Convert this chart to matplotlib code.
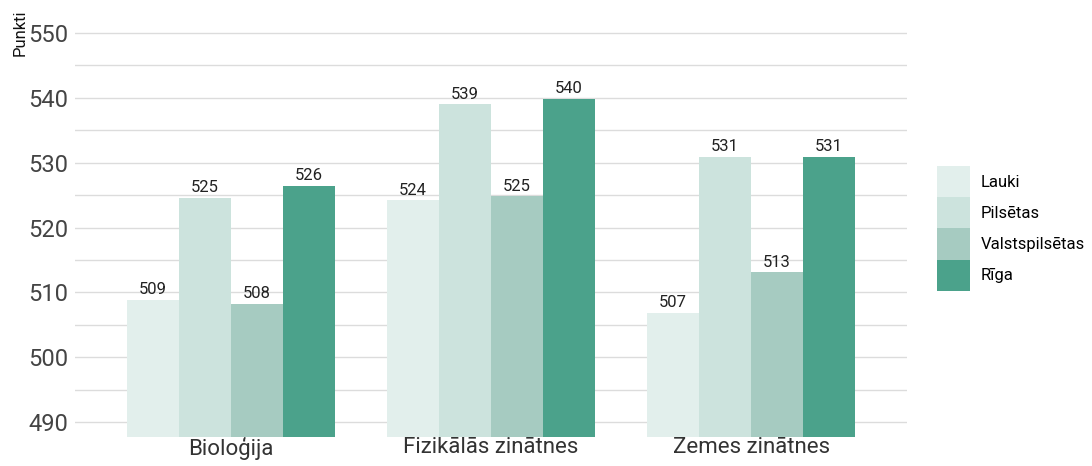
import numpy as np
import matplotlib.pyplot as plt
from matplotlib.ticker import MultipleLocator

plt.rcParams['font.family'] = ['Roboto', 'DejaVu Sans']

# Data
subjects = ['Bioloģija', 'Fizikālās zinātnes', 'Zemes zinātnes']
groups = ['Lauki', 'Pilsētas', 'Valstspilsētas', 'Rīga']
lauki = [508.8, 524.2, 506.8]
pilsetas = [524.6, 539.0, 530.9]
valstspilsetas = [508.3, 524.8, 513.1]
riga = [526.4, 539.8, 530.9]
colors = ['#e2efec', '#cce3dd', '#a6cbc1', '#4ba28b']

series = [lauki, pilsetas, valstspilsetas, riga]

fig = plt.figure(figsize=(10.92, 4.66), dpi=100)
ax = fig.add_axes([0.0687, 0.062, 0.762, 0.874])

x = np.arange(len(subjects))
width = 0.2
bottom = 487.7
for i, (vals, name, col) in enumerate(zip(series, groups, colors)):
    pos = x + (i - 1.5) * width
    heights = [v - bottom for v in vals]
    bars = ax.bar(pos, heights, width, bottom=bottom, color=col, label=name, zorder=2)
    for b, v in zip(bars, vals):
        ax.annotate(f'{round(v):d}', (b.get_x() + b.get_width() / 2, v),
                    xytext=(0, 2), textcoords='offset points',
                    ha='center', va='bottom', fontsize=12, color='#222222')

ax.set_xlim(-0.6, 2.6)
ax.set_ylim(bottom, 550.5)
ax.yaxis.set_major_locator(MultipleLocator(10))
ax.yaxis.set_minor_locator(MultipleLocator(5))
ax.grid(axis='y', which='both', color='#dcdcdc', linewidth=1, zorder=0)
ax.set_xticks(x)
ax.set_xticklabels(subjects, fontsize=16, color='#333333')
ax.tick_params(axis='y', labelsize=17, labelcolor='#444444', length=0, pad=5)
ax.tick_params(axis='x', length=0, pad=0)
ax.tick_params(axis='y', which='minor', length=0)
for s in ax.spines.values():
    s.set_visible(False)

fig.text(0.018, 0.93, 'Punkti', rotation=90, fontsize=12, color='#111111',
         ha='center', va='center')

fig.legend(loc='center left', bbox_to_anchor=(0.852, 0.51), frameon=False,
           fontsize=12, handlelength=2.0, handleheight=2.5, labelspacing=0.0,
           handletextpad=0.6, borderaxespad=0)

fig.savefig('out.png', dpi=100)
